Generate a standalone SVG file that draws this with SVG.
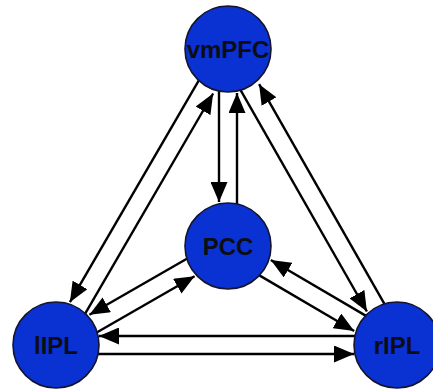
<svg xmlns="http://www.w3.org/2000/svg" width="433" height="390" viewBox="0 0 433 390">
  <style>
    .edge { stroke: #000; stroke-width: 2.4; fill: none; marker-end: url(#head); }
    .node circle { fill: #0a31d2; stroke: #14142e; stroke-width: 1.6; }
    .node text { font-family: "Liberation Sans", Arial, sans-serif; font-weight: bold; font-size: 24px; fill: #0d0d14; text-anchor: middle; }
  </style>
  <defs>
    <marker id="head" markerUnits="userSpaceOnUse" markerWidth="20" markerHeight="17" refX="20" refY="8.5" orient="auto">
      <path d="M0,0 L20,8.5 L0,17 z" fill="#000"/>
    </marker>
  </defs>
  <rect width="433" height="390" fill="#fff"/>

  <g id="connectors">
    <!-- vmPFC <-> PCC -->
    <line class="edge" x1="219" y1="89" x2="219" y2="202"/>
    <line class="edge" x1="237" y1="206" x2="237" y2="93"/>
    <!-- vmPFC <-> lIPL -->
    <line class="edge" x1="199.7" y1="78.8" x2="69.9" y2="302.2"/>
    <line class="edge" x1="84.3" y1="315.2" x2="213.1" y2="93.5"/>
    <!-- vmPFC <-> rIPL -->
    <line class="edge" x1="239.6" y1="88.4" x2="366.9" y2="311.5"/>
    <line class="edge" x1="385.4" y1="305.6" x2="259.1" y2="84.2"/>
    <!-- PCC <-> lIPL -->
    <line class="edge" x1="188.6" y1="257.7" x2="89.4" y2="314.8"/>
    <line class="edge" x1="95.4" y1="333.3" x2="194.6" y2="276.2"/>
    <!-- PCC <-> rIPL -->
    <line class="edge" x1="367.3" y1="316.6" x2="270.8" y2="260.0"/>
    <line class="edge" x1="257.7" y1="274.4" x2="354.2" y2="331.0"/>
    <!-- lIPL <-> rIPL -->
    <line class="edge" x1="357" y1="336" x2="99" y2="336"/>
    <line class="edge" x1="96" y1="354" x2="354" y2="354"/>
  </g>

  <g id="vmPFC" class="node">
    <circle cx="228" cy="49" r="43"/>
    <text x="228" y="57.5">vmPFC</text>
  </g>
  <g id="PCC" class="node">
    <circle cx="228" cy="246" r="43"/>
    <text x="228" y="254.5">PCC</text>
  </g>
  <g id="lIPL" class="node">
    <circle cx="56" cy="345" r="43"/>
    <text x="56" y="353.5">lIPL</text>
  </g>
  <g id="rIPL" class="node">
    <circle cx="397" cy="345" r="43"/>
    <text x="397" y="353.5">rIPL</text>
  </g>
</svg>
